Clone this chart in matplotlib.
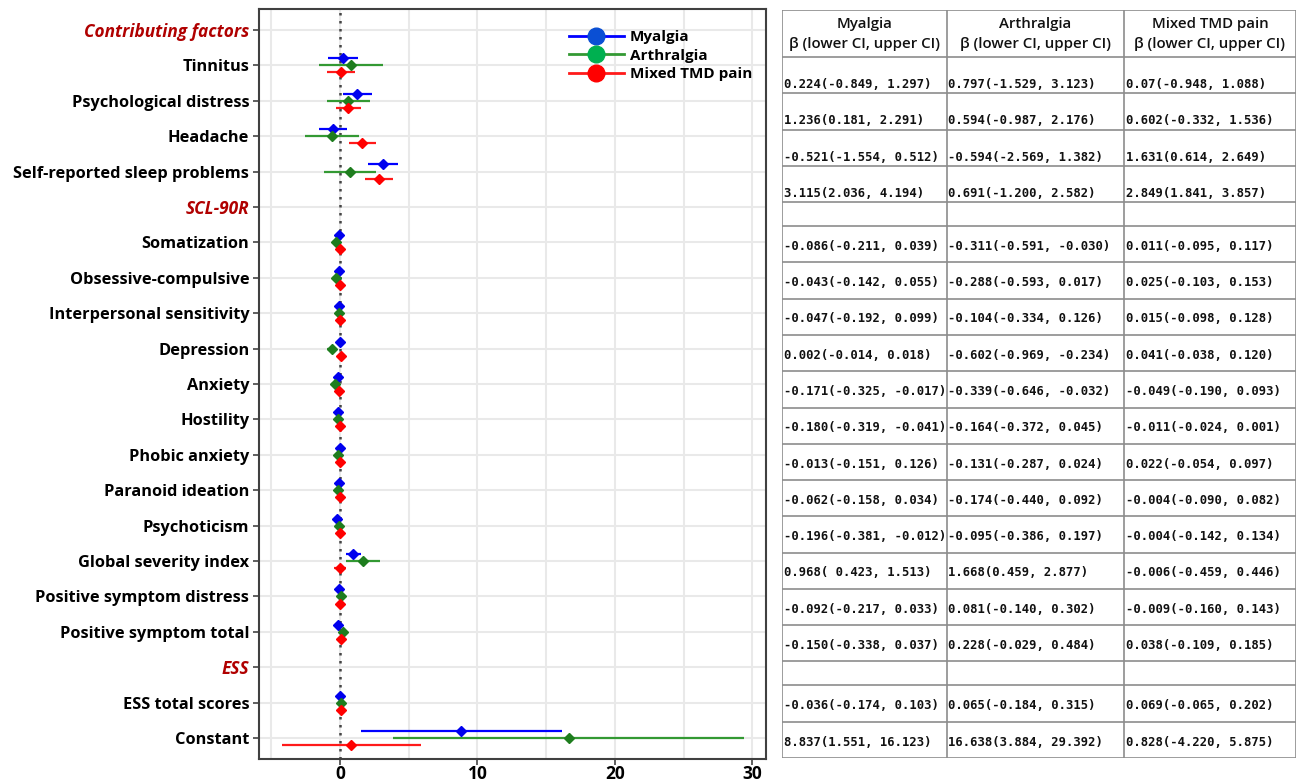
import matplotlib
matplotlib.use("Agg")
import matplotlib.pyplot as plt
from matplotlib.lines import Line2D
from matplotlib.ticker import MultipleLocator, FixedLocator

plt.rcParams['font.family'] = ['Open Sans', 'DejaVu Sans']

# ---------------- data ----------------
row_labels = ["Contributing factors", "Tinnitus", "Psychological distress", "Headache",
              "Self-reported sleep problems", "SCL-90R", "Somatization",
              "Obsessive-compulsive", "Interpersonal sensitivity", "Depression",
              "Anxiety", "Hostility", "Phobic anxiety", "Paranoid ideation",
              "Psychoticism", "Global severity index", "Positive symptom distress",
              "Positive symptom total", "ESS", "ESS total scores", "Constant"]
section_labels = ["Contributing factors", "SCL-90R", "ESS"]

groups = ["Myalgia", "Arthralgia", "Mixed TMD pain"]

myalgia_beta = ["0.224", "1.236", "-0.521", "3.115", "-0.086", "-0.043", "-0.047", "0.002",
                "-0.171", "-0.180", "-0.013", "-0.062", "-0.196", "0.968", "-0.092", "-0.150",
                "-0.036", "8.837"]
myalgia_lo = ["-0.849", "0.181", "-1.554", "2.036", "-0.211", "-0.142", "-0.192", "-0.014",
              "-0.325", "-0.319", "-0.151", "-0.158", "-0.381", " 0.423", "-0.217", "-0.338",
              "-0.174", "1.551"]
myalgia_hi = ["1.297", "2.291", "0.512", "4.194", "0.039", "0.055", "0.099", "0.018",
              "-0.017", "-0.041", "0.126", "0.034", "-0.012", "1.513", "0.033", "0.037",
              "0.103", "16.123"]

arthralgia_beta = ["0.797", "0.594", "-0.594", "0.691", "-0.311", "-0.288", "-0.104", "-0.602",
                   "-0.339", "-0.164", "-0.131", "-0.174", "-0.095", "1.668", "0.081", "0.228",
                   "0.065", "16.638"]
arthralgia_lo = ["-1.529", "-0.987", "-2.569", "-1.200", "-0.591", "-0.593", "-0.334", "-0.969",
                 "-0.646", "-0.372", "-0.287", "-0.440", "-0.386", "0.459", "-0.140", "-0.029",
                 "-0.184", "3.884"]
arthralgia_hi = ["3.123", "2.176", "1.382", "2.582", "-0.030", "0.017", "0.126", "-0.234",
                 "-0.032", "0.045", "0.024", "0.092", "0.197", "2.877", "0.302", "0.484",
                 "0.315", "29.392"]

mixed_beta = ["0.07", "0.602", "1.631", "2.849", "0.011", "0.025", "0.015", "0.041",
              "-0.049", "-0.011", "0.022", "-0.004", "-0.004", "-0.006", "-0.009", "0.038",
              "0.069", "0.828"]
mixed_lo = ["-0.948", "-0.332", "0.614", "1.841", "-0.095", "-0.103", "-0.098", "-0.038",
            "-0.190", "-0.024", "-0.054", "-0.090", "-0.142", "-0.459", "-0.160", "-0.109",
            "-0.065", "-4.220"]
mixed_hi = ["1.088", "1.536", "2.649", "3.857", "0.117", "0.153", "0.128", "0.120",
            "0.093", "0.001", "0.097", "0.082", "0.134", "0.446", "0.143", "0.185",
            "0.202", "5.875"]

x_ticks = [0, 10, 20, 30]

series = [
    (myalgia_beta, myalgia_lo, myalgia_hi),
    (arthralgia_beta, arthralgia_lo, arthralgia_hi),
    (mixed_beta, mixed_lo, mixed_hi),
]

# ---------------- styles ----------------
line_colors = ["#0000ff", "#339933", "#ff1a1a"]
marker_colors = ["#0000ee", "#1e7d1e", "#ff0000"]
legend_marker_colors = ["#0a4fd4", "#00b050", "#ff0000"]
offsets = [-0.2, 0.0, 0.2]
section_color = "#b00000"

W, H = 1309, 783
fig = plt.figure(figsize=(W / 100, H / 100), dpi=100)

# forest plot axes
ax_l, ax_r, ax_t, ax_b = 259, 766, 9, 759
ax = fig.add_axes([ax_l / W, 1 - ax_b / H, (ax_r - ax_l) / W, (ax_b - ax_t) / H])

data_rows = [i for i, lab in enumerate(row_labels) if lab not in section_labels]

for (b, lo, hi), off, lc, mc in zip(series, offsets, line_colors, marker_colors):
    bv = [float(v) for v in b]
    lv = [float(v) for v in lo]
    hv = [float(v) for v in hi]
    ys = [r + off for r in data_rows]
    ax.hlines(ys, lv, hv, color=lc, lw=1.6, zorder=3)
    ax.plot(bv, ys, 'D', ms=5.5, color=mc, mec=mc, zorder=4, ls='none')

ax.axvline(0, color="#444444", ls=(0, (1, 2.2)), lw=1.8, zorder=2)

ax.set_xlim(-5.9, 31.0)
ax.set_ylim(len(row_labels) - 1 + 0.59, -0.59)
ax.xaxis.set_major_locator(FixedLocator(x_ticks))
ax.xaxis.set_minor_locator(MultipleLocator(5))
ax.set_yticks(range(len(row_labels)))
ax.set_yticklabels(row_labels)
ax.grid(True, which='both', axis='x', color='#e9e9e9', lw=1.5, zorder=0)
ax.grid(True, which='major', axis='y', color='#e9e9e9', lw=1.5, zorder=0)
ax.set_axisbelow(True)
ax.tick_params(axis='x', which='major', length=4, width=1.2, color='#444444',
               labelsize=12.5, pad=0.5)
ax.tick_params(axis='x', which='minor', length=0)
ax.tick_params(axis='y', length=4, width=1.2, color='#444444', labelsize=11.8, pad=3)
for lab in ax.get_xticklabels():
    lab.set_fontweight('bold')
for lab in ax.get_yticklabels():
    lab.set_fontweight('bold')
    if lab.get_text() in section_labels:
        lab.set_color(section_color)
        lab.set_fontstyle('italic')
        lab.set_fontsize(12.4)
for sp in ax.spines.values():
    sp.set_color('#404040')
    sp.set_linewidth(1.5)

handles = [Line2D([0], [0], color=lc, lw=2, marker='o', ms=12, mfc=mc, mec=mc)
           for lc, mc in zip(line_colors, legend_marker_colors)]
leg = ax.legend(handles, groups, loc='upper right', bbox_to_anchor=(1.0, 0.99),
                frameon=False, handlelength=3.6, handletextpad=0.4, labelspacing=0.3,
                prop={'size': 11, 'weight': 'bold'})

# ---------------- table ----------------
tx0, tx1, ty0, ty1 = 782, 1296, 10, 758
tab = fig.add_axes([tx0 / W, 1 - ty1 / H, (tx1 - tx0) / W, (ty1 - ty0) / H])
tab.set_xlim(tx0, tx1)
tab.set_ylim(ty1, ty0)
tab.axis('off')

col_edges = [782, 947, 1124, 1296]
header_bottom = 57
table_rows = row_labels[1:]
n_sec = sum(1 for r in table_rows if r in section_labels)
sec_h = 24.0
data_h = (ty1 - header_bottom - n_sec * sec_h) / (len(table_rows) - n_sec)

edge_color = '#8c8c8c'
# header
for j, g in enumerate(groups):
    cx = (col_edges[j] + col_edges[j + 1]) / 2
    tab.text(cx, 24, g, ha='center', va='center', fontsize=10.8, color='#111111',
             fontweight='semibold')
    tab.text(cx, 44, "β (lower CI, upper CI)", ha='center', va='center', fontsize=10.8,
             color='#111111', fontweight='semibold')

y = header_bottom
hlines_y = [ty0, header_bottom]
k = 0
for r_i, lab in enumerate(table_rows):
    h = sec_h if lab in section_labels else data_h
    if lab not in section_labels:
        frac = 0.76 if r_i < 4 else 0.56
        ty = y + frac * h
        for j, (b, lo, hi) in enumerate(series):
            s = f"{b[k]}({lo[k]}, {hi[k]})"
            tab.text(col_edges[j] + 1.5, ty, s, ha='left', va='center', fontsize=8.8,
                     family='DejaVu Sans Mono', fontweight='bold', color='#111111')
        k += 1
    y += h
    hlines_y.append(y)

tab.hlines(hlines_y, tx0, tx1, color=edge_color, lw=1.2)
tab.vlines(col_edges, ty0, ty1, color=edge_color, lw=1.2)

fig.savefig("out.png", dpi=100)
